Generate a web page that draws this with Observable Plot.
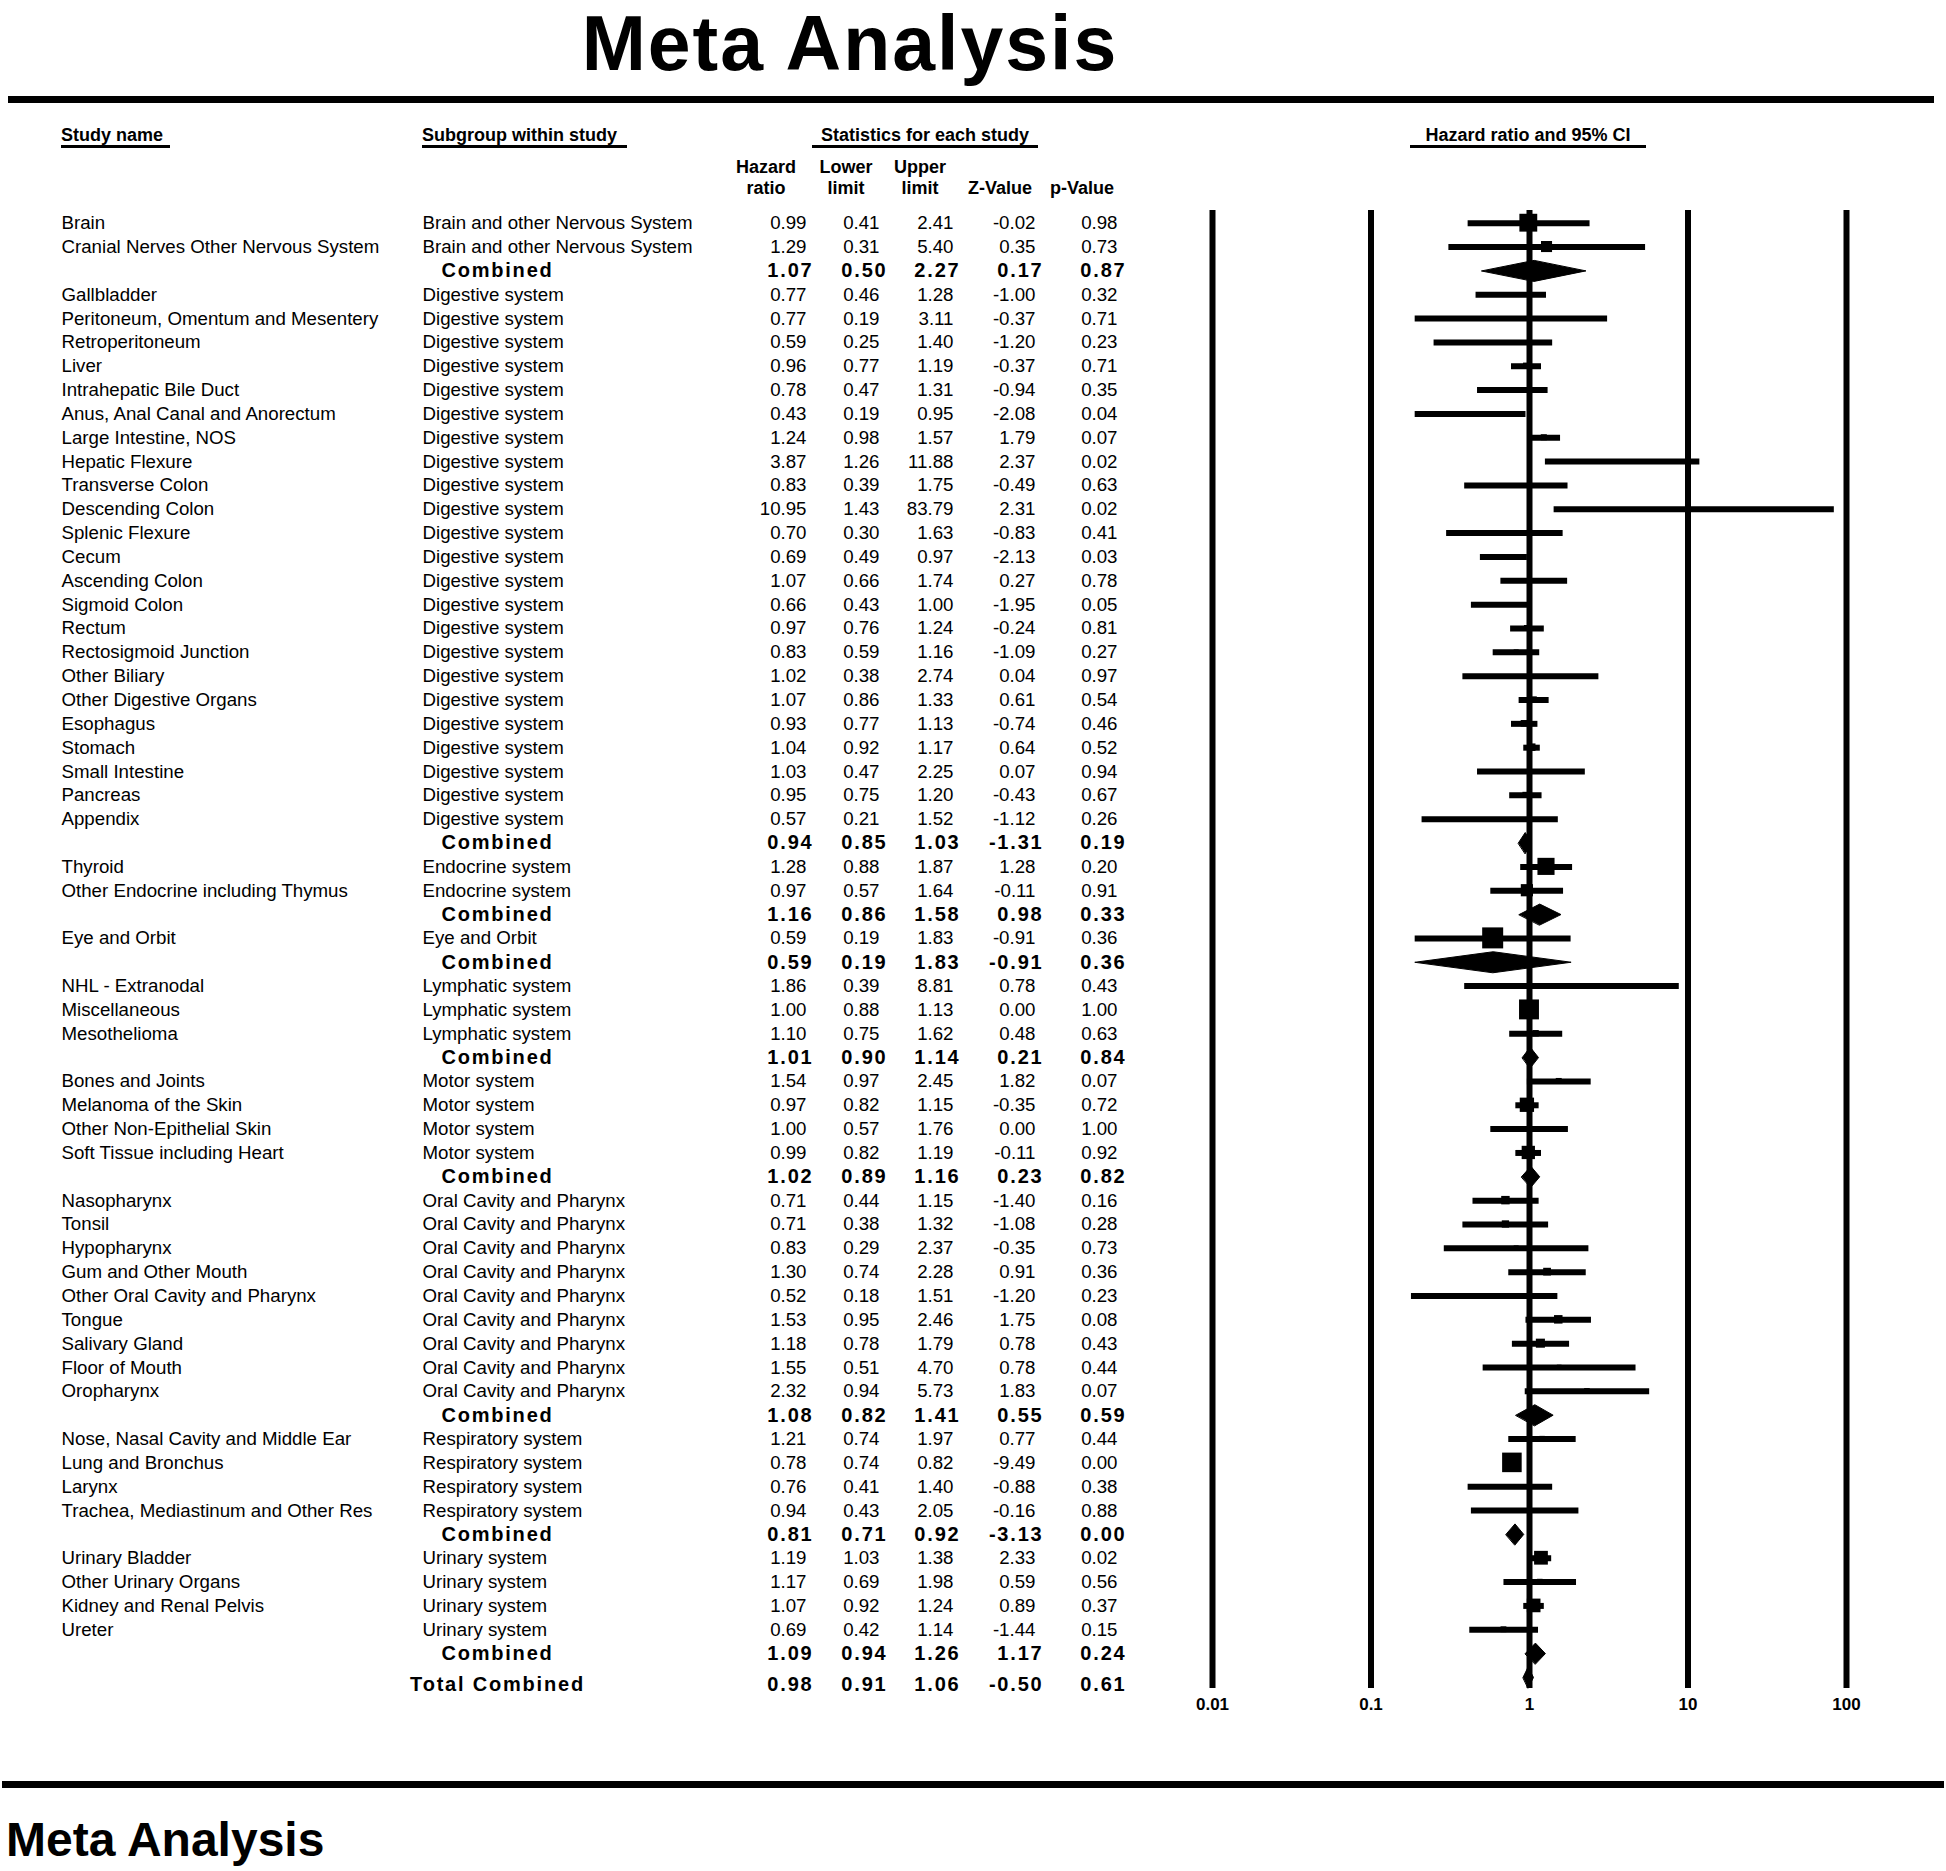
<!DOCTYPE html>
<html>
<head>
<meta charset="utf-8">
<script src="https://cdn.jsdelivr.net/npm/d3@7"></script>
<script src="https://cdn.jsdelivr.net/npm/@observablehq/plot@0.6"></script>
<style>
html,body{margin:0;padding:0;background:#fff;}
body{width:1946px;height:1871px;position:relative;overflow:hidden;font-family:"Liberation Sans",Arial,Helvetica,sans-serif;color:#000;}
.abs{position:absolute;white-space:nowrap;font-weight:bold;}
.rule{position:absolute;background:#000;}
.hdr{position:absolute;font-weight:bold;font-size:18px;line-height:20px;height:20px;border-bottom:3px solid #000;white-space:nowrap;}
.col{position:absolute;font-weight:bold;font-size:18px;line-height:21px;text-align:center;width:90px;top:157px;}
#chart{position:absolute;left:0;top:0;}
</style>
</head>
<body>
<div id="chart"></div>
<div class="abs" style="left:850px;top:5px;font-size:77px;line-height:77px;letter-spacing:2px;transform:translateX(-50%);">Meta Analysis</div>
<div class="rule" style="left:8px;top:96px;width:1926px;height:7px;"></div>
<div class="hdr" style="left:61px;top:125px;width:109px;">Study name</div>
<div class="hdr" style="left:422px;top:125px;width:205px;">Subgroup within study</div>
<div class="hdr" style="left:812px;top:125px;width:226px;text-align:center;">Statistics for each study</div>
<div class="hdr" style="left:1410px;top:125px;width:236px;text-align:center;">Hazard ratio and 95% CI</div>
<div class="col" style="left:721px;">Hazard<br>ratio</div>
<div class="col" style="left:801px;">Lower<br>limit</div>
<div class="col" style="left:875px;">Upper<br>limit</div>
<div class="col" style="left:955px;">&nbsp;<br>Z-Value</div>
<div class="col" style="left:1037px;">&nbsp;<br>p-Value</div>
<div class="rule" style="left:2px;top:1781px;width:1942px;height:7px;"></div>
<div class="abs" style="left:6px;top:1816px;font-size:48px;line-height:48px;">Meta Analysis</div>
<script>
// ---------------- data ----------------
const NERV = "Brain and other Nervous System", DIG = "Digestive system", END = "Endocrine system",
      EYE = "Eye and Orbit", LYM = "Lymphatic system", MOT = "Motor system",
      ORAL = "Oral Cavity and Pharynx", RESP = "Respiratory system", URI = "Urinary system";

const studyNames = ["Brain","Cranial Nerves Other Nervous System","Combined","Gallbladder","Peritoneum, Omentum and Mesentery","Retroperitoneum","Liver","Intrahepatic Bile Duct","Anus, Anal Canal and Anorectum","Large Intestine, NOS","Hepatic Flexure","Transverse Colon","Descending Colon","Splenic Flexure","Cecum","Ascending Colon","Sigmoid Colon","Rectum","Rectosigmoid Junction","Other Biliary","Other Digestive Organs","Esophagus","Stomach","Small Intestine","Pancreas","Appendix","Combined","Thyroid","Other Endocrine including Thymus","Combined","Eye and Orbit","Combined","NHL - Extranodal","Miscellaneous","Mesothelioma","Combined","Bones and Joints","Melanoma of the Skin","Other Non-Epithelial Skin","Soft Tissue including Heart","Combined","Nasopharynx","Tonsil","Hypopharynx","Gum and Other Mouth","Other Oral Cavity and Pharynx","Tongue","Salivary Gland","Floor of Mouth","Oropharynx","Combined","Nose, Nasal Cavity and Middle Ear","Lung and Bronchus","Larynx","Trachea, Mediastinum and Other Res","Combined","Urinary Bladder","Other Urinary Organs","Kidney and Renal Pelvis","Ureter","Combined","Total Combined"];

const subgroups = [NERV,NERV,NERV,
  DIG,DIG,DIG,DIG,DIG,DIG,DIG,DIG,DIG,DIG,DIG,DIG,DIG,DIG,DIG,DIG,DIG,DIG,DIG,DIG,DIG,DIG,DIG,DIG,
  END,END,END, EYE,EYE, LYM,LYM,LYM,LYM, MOT,MOT,MOT,MOT,MOT,
  ORAL,ORAL,ORAL,ORAL,ORAL,ORAL,ORAL,ORAL,ORAL,ORAL,
  RESP,RESP,RESP,RESP,RESP, URI,URI,URI,URI,URI, ""];

const hazardRatio = [0.99,1.29,1.07,0.77,0.77,0.59,0.96,0.78,0.43,1.24, 3.87,0.83,10.95,0.70,0.69,1.07,0.66,0.97,0.83,1.02, 1.07,0.93,1.04,1.03,0.95,0.57,0.94,1.28,0.97,1.16, 0.59,0.59,1.86,1.00,1.10,1.01,1.54,0.97,1.00,0.99, 1.02,0.71,0.71,0.83,1.30,0.52,1.53,1.18,1.55,2.32, 1.08,1.21,0.78,0.76,0.94,0.81,1.19,1.17,1.07,0.69, 1.09,0.98];
const lowerLimit = [0.41,0.31,0.50,0.46,0.19,0.25,0.77,0.47,0.19,0.98, 1.26,0.39,1.43,0.30,0.49,0.66,0.43,0.76,0.59,0.38, 0.86,0.77,0.92,0.47,0.75,0.21,0.85,0.88,0.57,0.86, 0.19,0.19,0.39,0.88,0.75,0.90,0.97,0.82,0.57,0.82, 0.89,0.44,0.38,0.29,0.74,0.18,0.95,0.78,0.51,0.94, 0.82,0.74,0.74,0.41,0.43,0.71,1.03,0.69,0.92,0.42, 0.94,0.91];
const upperLimit = [2.41,5.40,2.27,1.28,3.11,1.40,1.19,1.31,0.95,1.57, 11.88,1.75,83.79,1.63,0.97,1.74,1.00,1.24,1.16,2.74, 1.33,1.13,1.17,2.25,1.20,1.52,1.03,1.87,1.64,1.58, 1.83,1.83,8.81,1.13,1.62,1.14,2.45,1.15,1.76,1.19, 1.16,1.15,1.32,2.37,2.28,1.51,2.46,1.79,4.70,5.73, 1.41,1.97,0.82,1.40,2.05,0.92,1.38,1.98,1.24,1.14, 1.26,1.06];
const zValue = [-0.02,0.35,0.17,-1.00,-0.37,-1.20,-0.37,-0.94,-2.08,1.79, 2.37,-0.49,2.31,-0.83,-2.13,0.27,-1.95,-0.24,-1.09,0.04, 0.61,-0.74,0.64,0.07,-0.43,-1.12,-1.31,1.28,-0.11,0.98, -0.91,-0.91,0.78,0.00,0.48,0.21,1.82,-0.35,0.00,-0.11, 0.23,-1.40,-1.08,-0.35,0.91,-1.20,1.75,0.78,0.78,1.83, 0.55,0.77,-9.49,-0.88,-0.16,-3.13,2.33,0.59,0.89,-1.44, 1.17,-0.50];
const pValue = [0.98,0.73,0.87,0.32,0.71,0.23,0.71,0.35,0.04,0.07, 0.02,0.63,0.02,0.41,0.03,0.78,0.05,0.81,0.27,0.97, 0.54,0.46,0.52,0.94,0.67,0.26,0.19,0.20,0.91,0.33, 0.36,0.36,0.43,1.00,0.63,0.84,0.07,0.72,1.00,0.92, 0.82,0.16,0.28,0.73,0.36,0.23,0.08,0.43,0.44,0.07, 0.59,0.44,0.00,0.38,0.88,0.00,0.02,0.56,0.37,0.15, 0.24,0.61];

const tickValues = [0.01, 0.1, 1, 10, 100];
const tickLabels = ["0.01", "0.1", "1", "10", "100"];

// ---------------- layout ----------------
const W = 1946, H = 1871;
const xLeft = 1212, xRight = 1846, yTop = 210, yBottom = 1688;
const row0 = 222.7, rowStep = 23.84;
const decadePx = (xRight - xLeft) / 4;
const maxBox = 21, diamondH = 21;

const rows = studyNames.map((name, i) => ({
  row: i, name, subgroup: subgroups[i],
  hr: hazardRatio[i], lo: lowerLimit[i], up: upperLimit[i], z: zValue[i], p: pValue[i],
  kind: name === "Total Combined" ? "total" : name === "Combined" ? "combined" : "study"
}));
const studies = rows.filter(d => d.kind === "study");
const summaries = rows.filter(d => d.kind !== "study");

// relative (random-effects) weight of each study within its subgroup -> box size
for (const [, g] of d3.group(studies, d => d.subgroup)) {
  const ys = g.map(d => Math.log(d.hr));
  const vs = g.map(d => ((Math.log(d.up) - Math.log(d.lo)) / (2 * 1.959964)) ** 2);
  const ws = vs.map(v => 1 / v);
  const sw = d3.sum(ws);
  const ybar = d3.sum(ws, (w, i) => w * ys[i]) / sw;
  const Q = d3.sum(ws, (w, i) => w * (ys[i] - ybar) ** 2);
  const C = sw - d3.sum(ws, w => w * w) / sw;
  const tau2 = g.length > 1 ? Math.max(0, (Q - (g.length - 1)) / C) : 0;
  const wr = vs.map(v => 1 / (v + tau2));
  const swr = d3.sum(wr);
  g.forEach((d, i) => { d.side = maxBox * Math.sqrt(wr[i] / swr); });
}

const hh = diamondH / 2 / rowStep;
const diamondPts = summaries.flatMap(d => [
  {id: d.row, x: d.lo, y: d.row},
  {id: d.row, x: d.hr, y: d.row - hh},
  {id: d.row, x: d.up, y: d.row},
  {id: d.row, x: d.hr, y: d.row + hh}
]);

const font = '"Liberation Sans", Arial, Helvetica, sans-serif';
const fmt = v => v.toFixed(2);
const at = px => px - xLeft;
const textY = d => d.row + (d.kind === "total" ? 7 / rowStep : 0);
const regSize = 18.7;

const numCols = [
  {key: "hr", reg: 806, bold: 813},
  {key: "lo", reg: 879, bold: 887},
  {key: "up", reg: 953, bold: 960},
  {key: "z",  reg: 1035, bold: 1043},
  {key: "p",  reg: 1117, bold: 1126}
];

const marks = [
  Plot.ruleX(tickValues, {x: d => d, stroke: "#000", strokeWidth: 6}),
  Plot.ruleY(studies, {y: "row", x1: "lo", x2: "up", stroke: "#000", strokeWidth: 6}),
  Plot.rect(studies, {
    x1: d => d.hr * Math.pow(10, -d.side / 2 / decadePx),
    x2: d => d.hr * Math.pow(10, d.side / 2 / decadePx),
    y1: d => d.row - d.side / 2 / rowStep,
    y2: d => d.row + d.side / 2 / rowStep,
    fill: "#000"
  }),
  Plot.line(diamondPts, {x: "x", y: "y", z: "id", curve: "linear-closed", fill: "#000", stroke: "#000", strokeWidth: 1}),
  Plot.text(tickValues, {x: d => d, text: (d, i) => tickLabels[i], frameAnchor: "bottom", dy: 16, fontSize: 17, fontWeight: "bold", fill: "#000", lineAnchor: "middle"}),
  Plot.text(studies, {y: "row", text: "name", frameAnchor: "left", dx: at(61), textAnchor: "start", fontSize: regSize, fill: "#000"}),
  Plot.text(studies, {y: "row", text: "subgroup", frameAnchor: "left", dx: at(422), textAnchor: "start", fontSize: regSize, fill: "#000"}),
  Plot.text(summaries, {y: textY, text: "name", frameAnchor: "left", dx: at(497), textAnchor: "middle", fontSize: 20, fontWeight: "bold", fill: "#000"})
];
for (const c of numCols) {
  marks.push(Plot.text(studies, {y: "row", text: d => fmt(d[c.key]), frameAnchor: "left", dx: at(c.reg), textAnchor: "end", fontSize: regSize, fill: "#000"}));
  marks.push(Plot.text(summaries, {y: textY, text: d => fmt(d[c.key]), frameAnchor: "left", dx: at(c.bold), textAnchor: "end", fontSize: 20, fontWeight: "bold", fill: "#000"}));
}

const chart = Plot.plot({
  width: W, height: H,
  marginLeft: xLeft, marginRight: W - xRight, marginTop: yTop, marginBottom: H - yBottom,
  x: {type: "log", domain: [0.01, 100], axis: null},
  y: {type: "linear", domain: [0, 61], range: [row0, row0 + 61 * rowStep], axis: null},
  style: {fontFamily: font, background: "transparent", overflow: "visible"},
  marks
});
chart.querySelectorAll("g").forEach(g => {
  if (g.getAttribute("font-size") === "20" && g.getAttribute("font-weight") === "bold") {
    g.setAttribute("letter-spacing", "1.8");
  }
});
document.getElementById("chart").appendChild(chart);
</script>
</body>
</html>
